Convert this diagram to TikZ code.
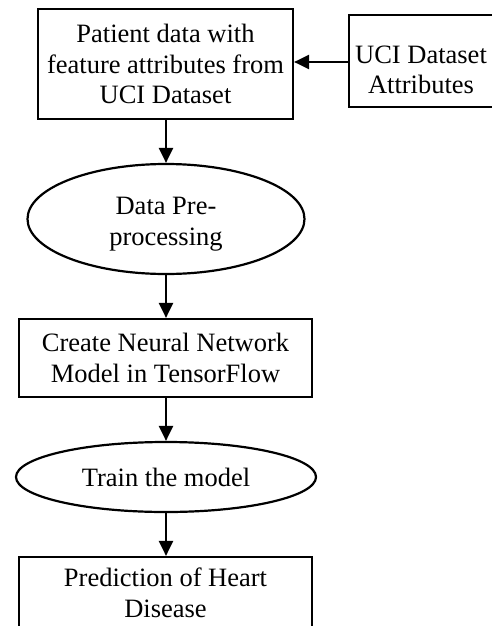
\documentclass[tikz,border=0pt]{standalone}
\usepackage{fontspec}
\setmainfont{Liberation Serif}
\usetikzlibrary{shapes.geometric,arrows.meta}
\begin{document}
\begin{tikzpicture}[x=1pt,y=-1pt,
  every node/.style={font=\fontsize{26.5}{30.5}\selectfont, align=center, inner sep=0pt},
  procbox/.style={draw, rectangle, line width=2.2pt},
  procell/.style={draw, ellipse, line width=2.2pt},
  flow/.style={line width=2.2pt, -{Triangle[length=15pt,width=14pt]}}]
\useasboundingbox (0,0) rectangle (492,626);
\node[procbox, minimum width=255pt, minimum height=110pt] (b1) at (165.5,64) {Patient data with\\feature attributes from\\UCI Dataset};
\node[procbox, minimum width=144pt, minimum height=92pt,
  label={[yshift=-9pt]center:{UCI Dataset\\Attributes}}] (b2) at (421,61) {};
\node[procell, minimum width=277pt, minimum height=110pt,
  label={[yshift=-5pt]center:{Data Pre-\\processing}}] (e1) at (166,219) {};
\node[procbox, minimum width=293pt, minimum height=78pt] (b3) at (165.5,358) {Create Neural Network\\Model in TensorFlow};
\node[procell, minimum width=300pt, minimum height=70pt] (e2) at (166,477) {Train the model};
\node[procbox, minimum width=293pt, minimum height=72pt] (b4) at (165.5,593) {Prediction of Heart\\Disease};
\draw[flow] (b2.west |- 0,62) -- (b1.east |- 0,62);
\draw[flow] (b1.south -| 166,0) -- (e1.north);
\draw[flow] (e1.south) -- (b3.north -| 166,0);
\draw[flow] (b3.south -| 166,0) -- (e2.north);
\draw[flow] (e2.south) -- (b4.north -| 166,0);
\end{tikzpicture}
\end{document}
